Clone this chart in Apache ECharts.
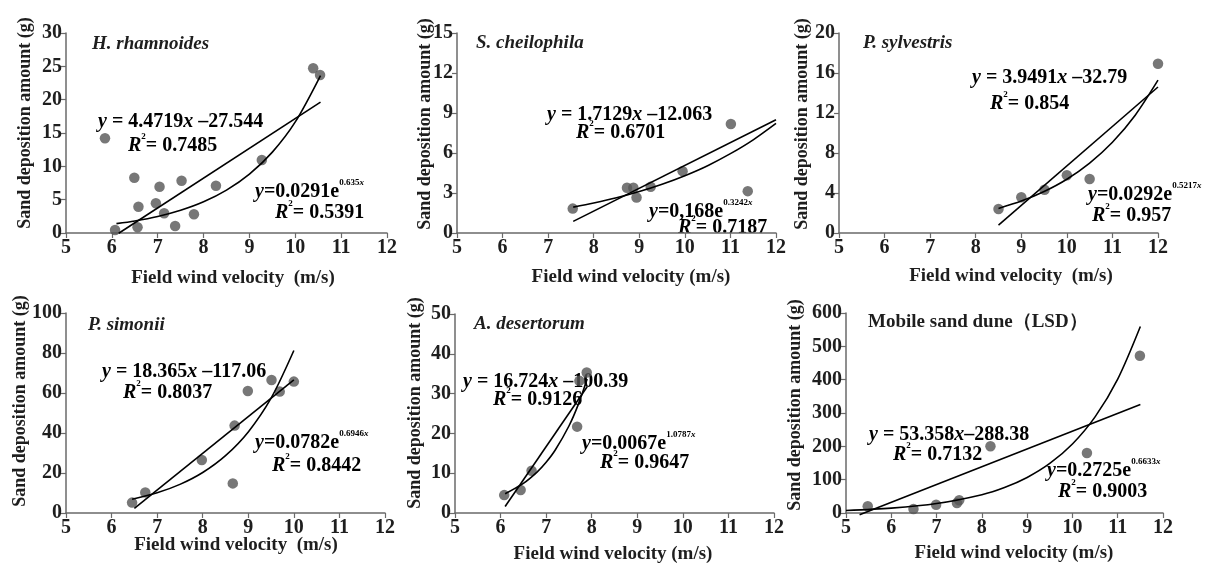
<!DOCTYPE html>
<html><head><meta charset="utf-8">
<script src="https://cdn.jsdelivr.net/npm/echarts@6/dist/echarts.min.js"></script>
<style>html,body{margin:0;padding:0;background:#fff}#c{width:1225px;height:565px}</style>
</head><body><div id="c"></div>
<script>
// ---- Data ----
const xMin = 5, xMax = 12, xStep = 1;
const yMaxes = [30, 15, 20, 100, 50, 600];
const ySteps = [5, 3, 4, 20, 10, 100];

// H. rhamnoides
const p1X = [5.85, 6.07, 6.49, 6.58, 6.56, 6.96, 7.04, 7.14, 7.38, 7.52, 7.79, 8.27, 9.27, 10.39, 10.54];
const p1Y = [14.2, 0.45, 8.3, 3.95, 0.85, 4.45, 6.95, 2.95, 1.05, 7.85, 2.8, 7.1, 10.95, 24.7, 23.7];
const p1LinX = [6.15, 10.55];
const p1LinY = [-0.04, 19.63];
const p1ExpX = [6.1, 6.5, 7, 7.5, 8, 8.5, 9, 9.5, 10, 10.55];
const p1ExpY = [1.40, 1.80, 2.48, 3.41, 4.68, 6.43, 8.83, 12.13, 16.66, 23.62];

// S. cheilophila
const p2X = [7.54, 8.73, 8.87, 8.94, 9.25, 9.95, 11.01, 11.38];
const p2Y = [1.83, 3.39, 3.39, 2.66, 3.46, 4.64, 8.18, 3.14];
const p2LinX = [7.55, 12];
const p2LinY = [0.87, 8.49];
const p2ExpX = [7.55, 8, 8.5, 9, 9.5, 10, 10.5, 11, 11.5, 12];
const p2ExpY = [1.94, 2.25, 2.64, 3.11, 3.66, 4.30, 5.05, 5.95, 6.99, 8.22];

// P. sylvestris
const p3X = [8.5, 9.0, 9.51, 10.0, 10.5, 12.0];
const p3Y = [2.4, 3.57, 4.33, 5.77, 5.4, 16.93];
const p3LinX = [8.5, 12];
const p3LinY = [0.78, 14.6];
const p3ExpX = [8.5, 9, 9.5, 10, 10.5, 11, 11.5, 12];
const p3ExpY = [2.46, 3.19, 4.15, 5.38, 6.99, 9.07, 11.78, 15.28];

// P. simonii
const p4X = [6.45, 6.74, 7.98, 8.70, 8.66, 8.99, 9.51, 9.69, 10.0];
const p4Y = [5.2, 10.3, 26.5, 43.7, 14.8, 61, 66.5, 60.7, 65.7];
const p4LinX = [6.5, 10];
const p4LinY = [2.31, 66.59];
const p4ExpX = [6.45, 7, 7.5, 8, 8.5, 9, 9.5, 10];
const p4ExpY = [6.90, 10.11, 14.31, 20.25, 28.67, 40.56, 57.40, 81.25];

// A. desertorum
const p5X = [6.08, 6.44, 6.68, 7.68, 7.73, 7.89];
const p5Y = [4.5, 5.8, 10.6, 21.7, 33.2, 35.3];
const p5LinX = [6.1, 7.9];
const p5LinY = [1.63, 31.73];
const p5ExpX = [6.1, 6.5, 6.8, 7, 7.2, 7.5, 7.7, 7.9];
const p5ExpY = [4.83, 7.43, 10.27, 12.74, 15.82, 21.86, 27.10, 33.64];

// Mobile sand dune (LSD)
const p6X = [5.48, 6.49, 6.99, 7.45, 7.5, 8.19, 10.32, 11.49];
const p6Y = [20, 12, 25, 30, 38, 200, 180, 472];
const p6LinX = [5.3, 11.5];
const p6LinY = [-5.58, 325.24];
const p6ExpX = [5, 6, 7, 8, 8.5, 9, 9.5, 10, 10.5, 11, 11.5];
const p6ExpY = [7.51, 14.58, 28.31, 54.95, 76.5, 106.7, 148.6, 207.0, 288.3, 401.6, 559.4];

const panelNames = ['H. rhamnoides', 'S. cheilophila', 'P. sylvestris', 'P. simonii', 'A. desertorum', 'Mobile sand dune（LSD）'];
const linEqs = ['4.4719', ' –27.544', '1.7129', ' –12.063', '3.9491', ' –32.79', '18.365', ' –117.06', '16.724', ' –100.39', '53.358', '–288.38'];
const linR2 = ['0.7485', '0.6701', '0.854', '0.8037', '0.9126', '0.7132'];
const expA = ['0.0291', '0,168', '0.0292', '0.0782', '0.0067', '0.2725'];
const expK = ['0.635', '0.3242', '0.5217', '0.6946', '1.0787', '0.6633'];
const expR2 = ['0.5391', '0.7187', '0.957', '0.8442', '0.9647', '0.9003'];
const xTitles = ['Field wind velocity  (m/s)', 'Field wind velocity (m/s)', 'Field wind velocity  (m/s)', 'Field wind velocity  (m/s)', 'Field wind velocity (m/s)', 'Field wind velocity (m/s)'];
const yTitle = 'Sand deposition amount (g)';

const pts = [[p1X, p1Y], [p2X, p2Y], [p3X, p3Y], [p4X, p4Y], [p5X, p5Y], [p6X, p6Y]];
const lins = [[p1LinX, p1LinY], [p2LinX, p2LinY], [p3LinX, p3LinY], [p4LinX, p4LinY], [p5LinX, p5LinY], [p6LinX, p6LinY]];
const exps = [[p1ExpX, p1ExpY], [p2ExpX, p2ExpY], [p3ExpX, p3ExpY], [p4ExpX, p4ExpY], [p5ExpX, p5ExpY], [p6ExpX, p6ExpY]];

// ---- Layout ----
const FONT = '"Liberation Serif", "Times New Roman", serif';
const grids = [
  {left: 66, top: 33, width: 321, height: 200},
  {left: 457, top: 33, width: 319, height: 200},
  {left: 839, top: 33, width: 319, height: 200},
  {left: 66, top: 313, width: 319, height: 200},
  {left: 455, top: 314, width: 319, height: 199},
  {left: 846, top: 313, width: 317, height: 200}
];
const yTitlePos = [[25, 123], [425, 124], [802, 124], [20, 401], [415, 403], [795, 405]];
const xTitlePos = [[233, 278], [631, 277], [1011, 276], [236, 545], [613, 554], [1014, 553]];
const namePos = [[92, 44], [476, 43], [863, 43], [88, 325], [474, 324], [868, 322]];
const linPos = [[98, 120], [547, 113], [972, 76], [102, 370], [463, 380], [869, 433]];
const linR2Pos = [[128, 144], [576, 131], [990, 102], [123, 391], [493, 398], [893, 453]];
const expPos = [[255, 190], [649, 210], [1088, 193], [255, 441], [582, 442], [1047, 469]];
const expR2Pos = [[275, 211], [678, 226], [1092, 214], [272, 464], [600, 461], [1058, 490]];

const axisCol = '#6a6a6a';
const txtCol = '#1e1e1e';
const rich = {
  i: {fontFamily: FONT, fontSize: 20, fontStyle: 'italic', fontWeight: 'bold', color: txtCol, lineHeight: 24, verticalAlign: 'bottom'},
  n: {fontFamily: FONT, fontSize: 20, fontWeight: 'bold', color: txtCol, lineHeight: 24, verticalAlign: 'bottom'},
  s: {fontFamily: FONT, fontSize: 9, fontWeight: 'bold', color: txtCol, lineHeight: 11, verticalAlign: 'top'},
  si: {fontFamily: FONT, fontSize: 9, fontStyle: 'italic', fontWeight: 'bold', color: txtCol, lineHeight: 11, verticalAlign: 'top'}
};

const option = {
  animation: false,
  backgroundColor: '#fff',
  grid: grids.map(g => Object.assign({outerBoundsMode: 'none', containLabel: false}, g)),
  xAxis: grids.map((g, k) => ({
    gridIndex: k, type: 'value', min: xMin, max: xMax, interval: xStep,
    axisLine: {show: true, onZero: false, lineStyle: {color: axisCol, width: 1.5}},
    axisTick: {show: true, inside: false, length: 5, lineStyle: {color: axisCol, width: 1.2}},
    splitLine: {show: false},
    axisLabel: {fontFamily: FONT, fontSize: 20, fontWeight: 'bold', color: txtCol, margin: 5, showMinLabel: true, showMaxLabel: true}
  })),
  yAxis: grids.map((g, k) => ({
    gridIndex: k, type: 'value', min: 0, max: yMaxes[k], interval: ySteps[k],
    axisLine: {show: true, onZero: false, lineStyle: {color: axisCol, width: 1.5}},
    axisTick: {show: true, inside: false, length: 5, lineStyle: {color: axisCol, width: 1.2}},
    splitLine: {show: false},
    axisLabel: {fontFamily: FONT, fontSize: 20, fontWeight: 'bold', color: txtCol, margin: 4, showMinLabel: true, showMaxLabel: true}
  })),
  series: [],
  graphic: []
};

for (let k = 0; k < 6; k++) {
  option.series.push({
    type: 'scatter', xAxisIndex: k, yAxisIndex: k, symbol: 'circle', symbolSize: 10.5,
    itemStyle: {color: '#555555'}, z: 3,
    data: pts[k][0].map((x, i) => [x, pts[k][1][i]])
  });
  option.series.push({
    type: 'line', xAxisIndex: k, yAxisIndex: k, showSymbol: false, symbol: 'none', clip: false,
    lineStyle: {color: '#000', width: 1.6}, z: 4,
    data: lins[k][0].map((x, i) => [x, lins[k][1][i]])
  });
  option.series.push({
    type: 'line', xAxisIndex: k, yAxisIndex: k, showSymbol: false, symbol: 'none', smooth: 0.3,
    lineStyle: {color: '#000', width: 1.6}, z: 4,
    data: exps[k][0].map((x, i) => [x, exps[k][1][i]])
  });

  const G = option.graphic;
  G.push({type: 'text', x: yTitlePos[k][0], y: yTitlePos[k][1], rotation: Math.PI / 2,
    style: {text: yTitle, align: 'center', verticalAlign: 'middle', fontFamily: FONT, fontSize: 18, fontWeight: 'bold', fill: txtCol}});
  G.push({type: 'text', x: xTitlePos[k][0], y: xTitlePos[k][1], scaleX: 1.055,
    style: {text: xTitles[k], align: 'center', verticalAlign: 'middle', fontFamily: FONT, fontSize: 18, fontWeight: 'bold', fill: txtCol}});
  G.push({type: 'text', x: namePos[k][0], y: namePos[k][1],
    style: {text: panelNames[k], align: 'left', verticalAlign: 'middle', fontFamily: FONT, fontSize: 19, fontWeight: 'bold', fontStyle: k === 5 ? 'normal' : 'italic', fill: txtCol}});
  G.push({type: 'text', x: linPos[k][0], y: linPos[k][1],
    style: {text: '{i|y}{n| = ' + linEqs[2 * k] + '}{i|x}{n|' + linEqs[2 * k + 1] + '}', rich: rich, align: 'left', verticalAlign: 'middle'}});
  G.push({type: 'text', x: linR2Pos[k][0], y: linR2Pos[k][1],
    style: {text: '{i|R}{s|2}{n|= ' + linR2[k] + '}', rich: rich, align: 'left', verticalAlign: 'middle'}});
  G.push({type: 'text', x: expPos[k][0], y: expPos[k][1],
    style: {text: '{i|y}{n|=' + expA[k] + 'e}{s|' + expK[k] + '}{si|x}', rich: rich, align: 'left', verticalAlign: 'middle'}});
  G.push({type: 'text', x: expR2Pos[k][0], y: expR2Pos[k][1],
    style: {text: '{i|R}{s|2}{n|= ' + expR2[k] + '}', rich: rich, align: 'left', verticalAlign: 'middle'}});
}

const chart = echarts.init(document.getElementById('c'), null, {renderer: 'canvas', width: 1225, height: 565});
chart.setOption(option);
</script>
</body></html>
